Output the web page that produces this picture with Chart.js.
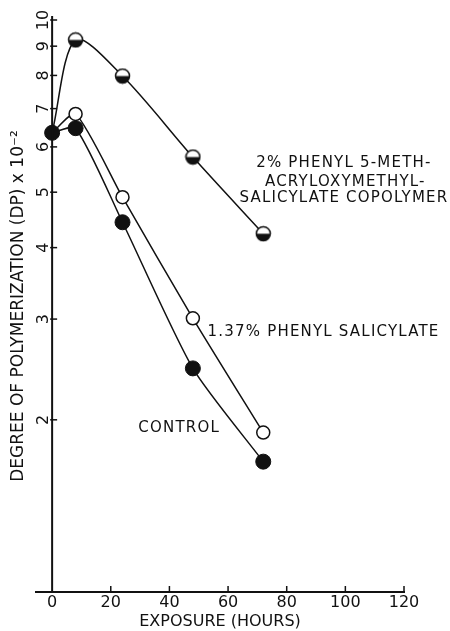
<!DOCTYPE html>
<html>
<head>
<meta charset="utf-8">
<script src="https://cdn.jsdelivr.net/npm/chart.js@4.4.1/dist/chart.umd.min.js"></script>
<style>
  html, body { margin: 0; padding: 0; background: #fff; }
  #wrap { width: 450px; height: 631px; }
</style>
</head>
<body>
<div id="wrap"><canvas id="dp-chart" width="450" height="631"></canvas></div>
<script>
// exposure times (hours)
const hours = [0, 8, 24, 48, 72];

// degree of polymerization x 10^-2
const copolymerDP = [6.35, 9.23, 7.98, 5.76, 4.23];
const phenylSalicylateDP = [6.35, 6.85, 4.9, 3.01, 1.9];
const controlDP = [6.35, 6.47, 4.43, 2.46, 1.69];

const xTickValues = [0, 20, 40, 60, 80, 100, 120];
const yTickValues = [2, 3, 4, 5, 6, 7, 8, 9, 10];

// curve labels, placed in data units (hours, DP)
const curveLabels = [
  { text: '2% PHENYL 5-METH-', x: 99.5, y: 5.62, align: 'center' },
  { text: 'ACRYLOXYMETHYL-', x: 100, y: 5.21, align: 'center' },
  { text: 'SALICYLATE COPOLYMER', x: 99.5, y: 4.88, align: 'center' },
  { text: '1.37% PHENYL SALICYLATE', x: 53, y: 2.85, align: 'left' },
  { text: 'CONTROL', x: 29.4, y: 1.935, align: 'left' },
];

const FONT = "'DejaVu Sans', sans-serif";
const INK = '#111';

const halfFilledMarker = (r) => {
  const c = document.createElement('canvas');
  const size = r * 2 + 3;
  c.width = size;
  c.height = size;
  const g = c.getContext('2d');
  const m = size / 2;
  g.beginPath();
  g.arc(m, m, r, 0, Math.PI * 2);
  g.fillStyle = '#fff';
  g.fill();
  g.beginPath();
  g.arc(m, m, r, 0, Math.PI);
  g.closePath();
  g.fillStyle = INK;
  g.fill();
  g.beginPath();
  g.arc(m, m, r, 0, Math.PI * 2);
  g.lineWidth = 1.5;
  g.strokeStyle = INK;
  g.stroke();
  return c;
};

const toPoints = (values) => hours.map((h, i) => ({ x: h, y: values[i] }));

// y axis sits at x = 0 with inward ticks, labels rotated like the original
const axisDecor = {
  id: 'axisDecor',
  afterDraw(chart) {
    const { ctx, scales: { x, y } } = chart;
    const x0 = x.getPixelForValue(0);
    ctx.save();
    ctx.strokeStyle = INK;
    ctx.lineWidth = 2;
    ctx.beginPath();
    ctx.moveTo(x0, y.getPixelForValue(1));
    ctx.lineTo(x0, y.getPixelForValue(10) - 4);
    ctx.stroke();

    ctx.lineWidth = 1.5;
    yTickValues.forEach(v => {
      const py = y.getPixelForValue(v);
      ctx.beginPath();
      ctx.moveTo(x0 - 2, py);
      ctx.lineTo(x0 + 5, py);
      ctx.stroke();
    });
    xTickValues.slice(1).forEach(v => {
      const px = x.getPixelForValue(v);
      ctx.beginPath();
      ctx.moveTo(px, x.top);
      ctx.lineTo(px, x.top - 6);
      ctx.stroke();
    });

    ctx.fillStyle = INK;
    ctx.font = `16px ${FONT}`;
    ctx.textAlign = 'center';
    ctx.textBaseline = 'middle';
    yTickValues.forEach(v => {
      ctx.save();
      ctx.translate(x0 - 8, y.getPixelForValue(v));
      ctx.rotate(-Math.PI / 2);
      ctx.fillText(String(v), 0, 0);
      ctx.restore();
    });

    ctx.font = `15px ${FONT}`;
    ctx.letterSpacing = '1.2px';
    curveLabels.forEach(l => {
      ctx.textAlign = l.align;
      ctx.fillText(l.text, x.getPixelForValue(l.x), y.getPixelForValue(l.y));
    });
    ctx.restore();
  }
};

const ctx = document.getElementById('dp-chart').getContext('2d');

const lineStyle = {
  borderColor: INK,
  borderWidth: 1.5,
  tension: 0.22,
  clip: false,
};

new Chart(ctx, {
  type: 'line',
  data: {
    datasets: [
      {
        ...lineStyle,
        label: 'copolymer',
        data: toPoints(copolymerDP),
        tension: 0.3,
        pointStyle: halfFilledMarker(7),
        pointRadius: [0, 7, 7, 7, 7],
      },
      {
        ...lineStyle,
        label: 'phenyl salicylate',
        data: toPoints(phenylSalicylateDP),
        pointStyle: 'circle',
        pointRadius: [0, 6.5, 6.5, 6.5, 6.5],
        pointBackgroundColor: '#fff',
        pointBorderColor: INK,
        pointBorderWidth: 1.5,
      },
      {
        ...lineStyle,
        label: 'control',
        data: toPoints(controlDP),
        pointStyle: 'circle',
        pointRadius: 7.5,
        pointBackgroundColor: INK,
        pointBorderColor: INK,
        pointBorderWidth: 1,
      },
    ]
  },
  options: {
    responsive: false,
    animation: false,
    layout: { padding: { top: 20, right: 46, left: 0, bottom: 0 } },
    plugins: {
      legend: { display: false },
      tooltip: { enabled: false },
    },
    scales: {
      x: {
        type: 'linear',
        min: -5.5,
        max: 120,
        afterBuildTicks: (s) => { s.ticks = xTickValues.map(v => ({ value: v })); },
        afterFit: (s) => { s.height = 39; },
        grid: { display: false, drawTicks: false },
        border: { display: true, color: INK, width: 2 },
        ticks: {
          color: INK,
          padding: 1,
          font: { family: FONT, size: 16 },
        },
        title: {
          display: true,
          text: 'EXPOSURE (HOURS)',
          color: INK,
          font: { family: FONT, size: 16 },
          padding: { top: 0, bottom: 0 },
        },
      },
      y: {
        type: 'logarithmic',
        min: 1,
        max: 10,
        afterFit: (s) => { s.width = 36; },
        grid: { display: false, drawTicks: false },
        border: { display: false },
        ticks: { display: false },
        title: {
          display: true,
          text: 'DEGREE OF POLYMERIZATION (DP) x 10\u207B\u00B2',
          color: INK,
          font: { family: FONT, size: 17 },
          align: 'center',
          padding: { top: 8, bottom: 0 },
        },
      },
    },
  },
  plugins: [axisDecor],
});
</script>
</body>
</html>
